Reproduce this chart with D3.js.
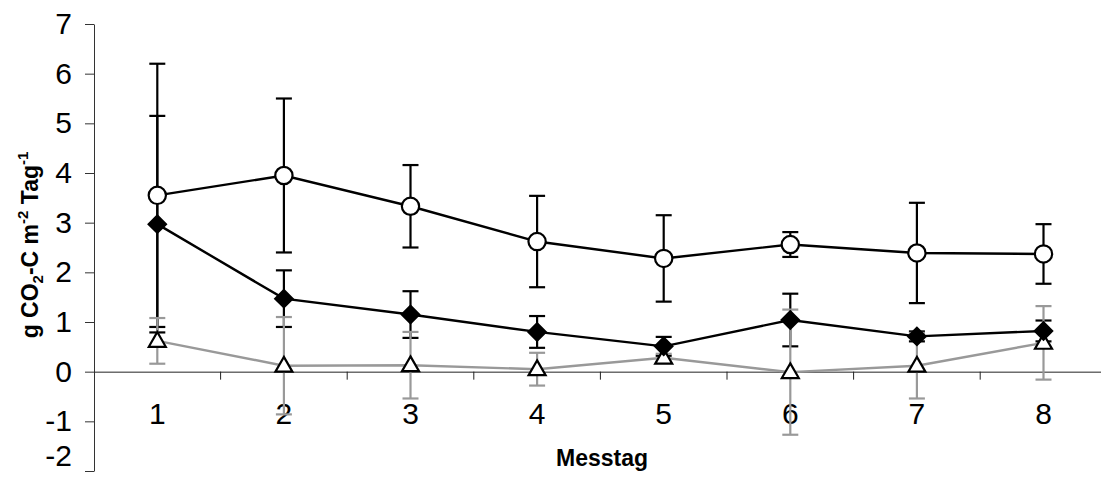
<!DOCTYPE html>
<html>
  <head>
    <meta charset="utf-8">
    <style>
    body {
        margin: 0px;
        overflow: hidden;
        background: white;
    }
    text {
        font-family: "Liberation Sans", Arial, sans-serif;
    }
    .tick text {
        font-size: 30px;
        fill: #000;
    }
    .axis-label {
        font-size: 23px;
        font-weight: bold;
        fill: #000;
    }
    </style>
    <script src="https://d3js.org/d3.v7.min.js"></script>
  </head>
  <body>
    <svg width="1101" height="481"></svg>
    <script>
        //data
        const days = [1, 2, 3, 4, 5, 6, 7, 8];
        const circleMean = [3.55, 3.95, 3.33, 2.62, 2.28, 2.56, 2.39, 2.37];
        const circleErr  = [2.65, 1.55, 0.83, 0.92, 0.87, 0.25, 1.01, 0.60];
        const diamondMean = [2.97, 1.47, 1.15, 0.80, 0.51, 1.04, 0.71, 0.82];
        const diamondErr  = [2.18, 0.57, 0.47, 0.32, 0.19, 0.53, 0.10, 0.21];
        const triangleMean = [0.62, 0.12, 0.13, 0.05, 0.28, -0.01, 0.12, 0.58];
        const triangleErr  = [0.46, 0.98, 0.67, 0.33, 0.08, 1.26, 0.66, 0.74];
        const yTicks = [-2, -1, 0, 1, 2, 3, 4, 5, 6, 7];

        const svg = d3.select('svg');

        //scales
        const x = d3.scaleBand()
            .domain(days)
            .range([94, 94 + 8 * 126.6]);
        const y = d3.scaleLinear()
            .domain([-2, 7])
            .range([471, 24]);
        const cx = d => x(d) + x.bandwidth() / 2;

        //y axis (plain hyphen for minus, like the original)
        const yAxisG = svg.append('g')
            .attr('transform', 'translate(94,0)')
            .call(d3.axisLeft(y).tickValues(yTicks).tickSize(9).tickSizeOuter(0)
                .tickPadding(13).tickFormat(d => String(d)));
        yAxisG.selectAll('line, path').attr('stroke', '#333');
        //bottom label sits a bit higher so it stays inside the picture
        yAxisG.selectAll('.tick text').filter(d => d === -2).attr('dy', '-0.2em');

        //x axis at zero, labels under the band centres
        const xAxisG = svg.append('g')
            .attr('transform', `translate(0,${y(0)})`)
            .call(d3.axisBottom(x).tickSize(0).tickSizeOuter(0).tickPadding(31));
        xAxisG.select('.domain').attr('stroke', '#222');
        xAxisG.selectAll('.tick text').attr('dy', '0.71em');

        //tick marks at the band boundaries
        xAxisG.selectAll('.bound').data(days.slice(1))
            .enter().append('line')
                .attr('class', 'bound')
                .attr('x1', d => x(d)).attr('x2', d => x(d))
                .attr('y1', 0).attr('y2', 8)
                .attr('stroke', '#222');

        //series
        const series = [
            {mean: circleMean, err: circleErr, color: '#000', shape: 'circle'},
            {mean: diamondMean, err: diamondErr, color: '#000', shape: 'diamond'},
            {mean: triangleMean, err: triangleErr, color: '#999', shape: 'triangle'}
        ];

        const line = d3.line()
            .x((d, i) => cx(days[i]))
            .y(d => y(d));

        //error bars first
        series.forEach(s => {
            const eg = svg.append('g');
            days.forEach((d, i) => {
                const hi = y(s.mean[i] + s.err[i]);
                const lo = y(s.mean[i] - s.err[i]);
                eg.append('line')
                    .attr('x1', cx(d)).attr('x2', cx(d))
                    .attr('y1', hi).attr('y2', lo)
                    .attr('stroke', s.color).attr('stroke-width', 2.2);
                [hi, lo].forEach(v => {
                    eg.append('line')
                        .attr('x1', cx(d) - 8).attr('x2', cx(d) + 8)
                        .attr('y1', v).attr('y2', v)
                        .attr('stroke', s.color).attr('stroke-width', 2.2);
                });
            });
        });

        //lines
        series.forEach(s => {
            svg.append('path')
                .datum(s.mean)
                .attr('d', line)
                .attr('fill', 'none')
                .attr('stroke', s.color)
                .attr('stroke-width', 2.4);
        });

        //markers
        const sym = {
            circle: d3.symbol().type(d3.symbolCircle).size(235),
            diamond: d3.symbol().type(d3.symbolSquare).size(150),
            triangle: d3.symbol().type(d3.symbolTriangle).size(125)
        };
        [series[2], series[1], series[0]].forEach(s => {
            svg.append('g').selectAll('path').data(s.mean)
                .enter().append('path')
                    .attr('d', sym[s.shape])
                    .attr('transform', (d, i) => {
                        let t = `translate(${cx(days[i])},${y(d)})`;
                        if (s.shape === 'diamond') t += ' rotate(45)';
                        if (s.shape === 'triangle') t += ' translate(0,1)';
                        return t;
                    })
                    .attr('fill', s.shape === 'diamond' ? '#000' : '#fff')
                    .attr('stroke', '#000')
                    .attr('stroke-width', 2.2);
        });

        //axis titles
        svg.append('text')
            .attr('class', 'axis-label')
            .attr('x', 602)
            .attr('y', 466)
            .attr('text-anchor', 'middle')
            .text('Messtag');

        const yl = svg.append('text')
            .attr('class', 'axis-label')
            .attr('font-size', '24px')
            .attr('transform', 'translate(38,245) rotate(-90)')
            .attr('text-anchor', 'middle');
        yl.append('tspan').text('g CO');
        yl.append('tspan').text('2').attr('font-size', '15px').attr('dy', 5);
        yl.append('tspan').text('-C m').attr('dy', -5);
        yl.append('tspan').text('-2').attr('font-size', '15px').attr('dy', -10);
        yl.append('tspan').text(' Tag').attr('dy', 10);
        yl.append('tspan').text('-1').attr('font-size', '15px').attr('dy', -10);
    </script>
  </body>
</html>
